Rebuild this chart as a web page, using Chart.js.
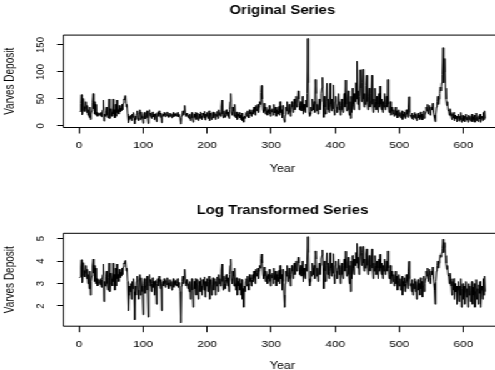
<!DOCTYPE html>
<html><head><meta charset="utf-8">
<script src="https://cdn.jsdelivr.net/npm/chart.js@4.4.1/dist/chart.umd.min.js"></script>
<style>
html,body{margin:0;padding:0;background:#fff;overflow:hidden;width:495px;height:370px;}
#wrap{position:absolute;left:0;top:0;width:452px;height:385px;transform:scaleX(1.25);transform-origin:0 0;}
#c1{position:absolute;left:0;top:0;}
#c2{position:absolute;left:0;top:185px;}
</style></head><body>
<div id="wrap"><canvas id="c1" width="452" height="185"></canvas><canvas id="c2" width="452" height="200"></canvas></div>
<script>
// Glacial varve thickness (one value per year)
const varve = [
26, 27, 42, 58, 21, 29, 51, 36, 27, 33,
45, 25, 38, 20, 30, 16, 35, 12, 22, 28,
44, 60, 32, 45, 22, 40, 20, 25, 18, 21,
24, 20, 19, 25, 17, 24, 30, 48, 9, 22,
18, 28, 35, 20, 15, 26, 50, 14, 20, 32,
25, 18, 50, 22, 30, 15, 40, 18, 48, 25,
30, 22, 38, 26, 33, 28, 40, 30, 42, 50,
48, 56, 55, 35, 40, 22, 6, 12, 18, 14,
20, 10, 22, 16, 25, 14, 4, 18, 12, 22,
28, 15, 10, 24, 30, 12, 26, 18, 14, 5,
20, 25, 13, 18, 22, 28, 15, 4.5, 20, 30,
18, 24, 14, 20, 26, 17, 22, 12, 19, 23,
8, 20, 25, 18, 28, 22, 16, 24, 6, 20,
22, 18, 25, 20, 17, 23, 19, 26, 21, 16,
20, 24, 18, 22, 15, 21, 25, 17, 22, 19,
23, 18, 20, 25, 17, 21, 19, 14, 3.5, 18,
22, 28, 20, 25, 38, 22, 18, 24, 20, 16,
20, 14, 22, 10, 18, 25, 15, 7, 12, 22,
16, 25, 12, 20, 24, 10, 18, 22, 14, 26,
18, 12, 24, 20, 15, 27, 11, 22, 18, 25,
14, 22, 28, 10, 20, 24, 12, 18, 26, 15,
20, 25, 12, 22, 18, 27, 14, 30, 20, 25,
18, 35, 48, 22, 15, 28, 20, 16, 24, 30,
22, 18, 26, 14, 30, 45, 60, 25, 20, 35,
28, 18, 40, 20, 15, 26, 12, 22, 18, 25,
15, 20, 12, 24, 10, 16, 7, 18, 14, 22,
25, 18, 28, 20, 15, 30, 22, 26, 18, 24,
30, 22, 35, 26, 20, 38, 28, 33, 40, 25,
35, 45, 40, 62, 75, 50, 30, 25, 42, 28,
22, 35, 28, 20, 30, 25, 38, 22, 18, 30,
26, 32, 20, 40, 28, 24, 35, 18, 30, 22,
28, 36, 20, 45, 25, 30, 15, 38, 22, 12,
7, 20, 35, 28, 45, 22, 30, 40, 25, 18,
30, 45, 35, 25, 40, 50, 30, 45, 55, 35,
42, 65, 50, 38, 30, 45, 28, 35, 55, 22,
40, 30, 25, 48, 35, 60, 162, 80, 25, 18,
22, 35, 28, 50, 40, 30, 45, 25, 86, 60,
28, 40, 22, 35, 50, 30, 45, 60, 70, 90,
40, 16, 55, 35, 22, 45, 79, 30, 50, 25,
35, 79, 40, 28, 50, 32, 76, 30, 20, 45,
55, 35, 25, 40, 60, 30, 45, 20, 38, 50,
30, 25, 45, 60, 35, 85, 40, 28, 50, 65,
30, 20, 45, 14, 55, 25, 70, 40, 30, 60,
45, 80, 50, 120, 40, 65, 30, 55, 104, 70,
45, 80, 105, 50, 35, 60, 40, 75, 94, 45,
30, 55, 70, 35, 45, 60, 94, 40, 25, 50,
35, 70, 45, 30, 55, 40, 25, 60, 35, 74,
40, 30, 50, 25, 45, 35, 60, 30, 40, 55,
35, 86, 40, 25, 30, 45, 20, 35, 28, 22,
30, 18, 25, 35, 20, 28, 15, 22, 30, 18,
25, 15, 20, 28, 12, 22, 18, 26, 14, 20,
30, 22, 16, 35, 54, 25, 18, 20, 14, 24,
12, 20, 16, 25, 14, 22, 10, 18, 24, 15,
20, 12, 26, 16, 22, 11, 18, 28, 14, 20,
25, 35, 28, 40, 22, 30, 38, 20, 26, 35,
30, 42, 25, 20, 15, 8, 22, 35, 45, 55,
40, 50, 60, 72, 65, 80, 95, 145, 80, 100,
125, 70, 50, 38, 45, 30, 28, 20, 32, 25,
18, 12, 22, 15, 25, 10, 20, 14, 18, 8,
15, 22, 9, 18, 12, 25, 7, 16, 20, 10,
18, 8, 14, 22, 11, 16, 7, 20, 12, 18,
9, 15, 22, 8, 17, 12, 20, 7, 14, 24,
10, 16, 8, 19, 13, 22, 7, 15, 18, 10,
25, 12, 28, 14
];
const years = Array.from({length: varve.length}, (_, i) => i + 1);
const logVarve = varve.map(v => Math.log(v));
const xTickValues = [0, 100, 200, 300, 400, 500, 600];
const yTicksOriginal = [0, 50, 100, 150];
const yTicksLog = [2, 3, 4, 5];
const titles = ['Original Series', 'Log Transformed Series'];
const xTitle = 'Year';
const yTitle = 'Varves Deposit';

const FONT = '"Liberation Sans", Arial, Helvetica, sans-serif';

function rRange(arr) {
  const lo = Math.min(...arr), hi = Math.max(...arr);
  const e = (hi - lo) * 0.04;
  return [lo - e, hi + e];
}

const rBox = {
  id: 'rBox',
  afterDraw(chart) {
    const {ctx, chartArea: a} = chart;
    ctx.save();
    ctx.strokeStyle = '#000';
    ctx.lineWidth = 1;
    ctx.beginPath();
    ctx.moveTo(chart.width + 10, a.top);
    ctx.lineTo(a.left, a.top);
    ctx.lineTo(a.left, a.bottom);
    ctx.lineTo(chart.width + 10, a.bottom);
    ctx.stroke();
    const ys = chart.scales.y;
    ctx.font = '9.5px ' + FONT;
    ctx.fillStyle = '#000';
    ctx.textAlign = 'center';
    ctx.textBaseline = 'middle';
    ys.ticks.forEach(t => {
      const py = ys.getPixelForValue(t.value);
      ctx.save();
      ctx.translate(32, py);
      ctx.rotate(-Math.PI / 2);
      ctx.fillText(t.label != null ? String(t.label) : String(t.value), 0, 0);
      ctx.restore();
    });
    ctx.restore();
  }
};

function makePanel(canvas, title, values, yTicks, g) {
  const [xmin, xmax] = rRange(years);
  const [ymin, ymax] = rRange(values);
  return new Chart(canvas, {
    type: 'line',
    data: {
      datasets: [{
        data: years.map((x, i) => ({x: x, y: values[i]})),
        borderColor: '#000',
        borderWidth: 1,
        pointRadius: 0,
        fill: false,
        tension: 0
      }]
    },
    options: {
      responsive: false,
      animation: false,
      devicePixelRatio: 1,
      events: [],
      layout: {padding: {left: 0, right: 50.9, top: 0, bottom: 0}},
      plugins: {
        legend: {display: false},
        tooltip: {enabled: false},
        title: {
          display: true, text: title, fullSize: false, color: '#000',
          font: {family: FONT, size: 12, weight: 'bold', lineHeight: 1.2},
          padding: {top: g.tTop, bottom: g.tBottom}
        }
      },
      scales: {
        x: {
          type: 'linear', min: xmin, max: xmax,
          afterBuildTicks: s => { s.ticks = xTickValues.map(v => ({value: v})); },
          afterFit: s => { s.height = g.xH; },
          border: {display: false},
          grid: {drawOnChartArea: false, drawTicks: true, tickLength: 6, color: '#000', lineWidth: 1},
          ticks: {color: '#000', font: {family: FONT, size: 9.5}, padding: 6.5, maxRotation: 0, autoSkip: false},
          title: {display: true, text: xTitle, color: '#000', font: {family: FONT, size: 10, lineHeight: 1.2}, padding: {top: 0, bottom: g.xtPad}}
        },
        y: {
          type: 'linear', min: ymin, max: ymax,
          afterBuildTicks: s => { s.ticks = yTicks.map(v => ({value: v})); },
          afterFit: s => { s.width = 50.64; },
          border: {display: false},
          grid: {drawOnChartArea: false, drawTicks: true, tickLength: 5, color: '#000', lineWidth: 1},
          ticks: {display: false},
          title: {display: true, text: yTitle, color: '#000', font: {family: FONT, size: 10, lineHeight: 1.2}, padding: {top: 2, bottom: 0}}
        }
      }
    },
    plugins: [rBox]
  });
}

makePanel(document.getElementById('c1'), titles[0], varve, yTicksOriginal,
  {tTop: 3.8, tBottom: 16.9, xH: 57.5, xtPad: 10});
makePanel(document.getElementById('c2'), titles[1], logVarve, yTicksLog,
  {tTop: 18.8, tBottom: 15.1, xH: 58.8, xtPad: 12.3});
</script>
</body></html>
